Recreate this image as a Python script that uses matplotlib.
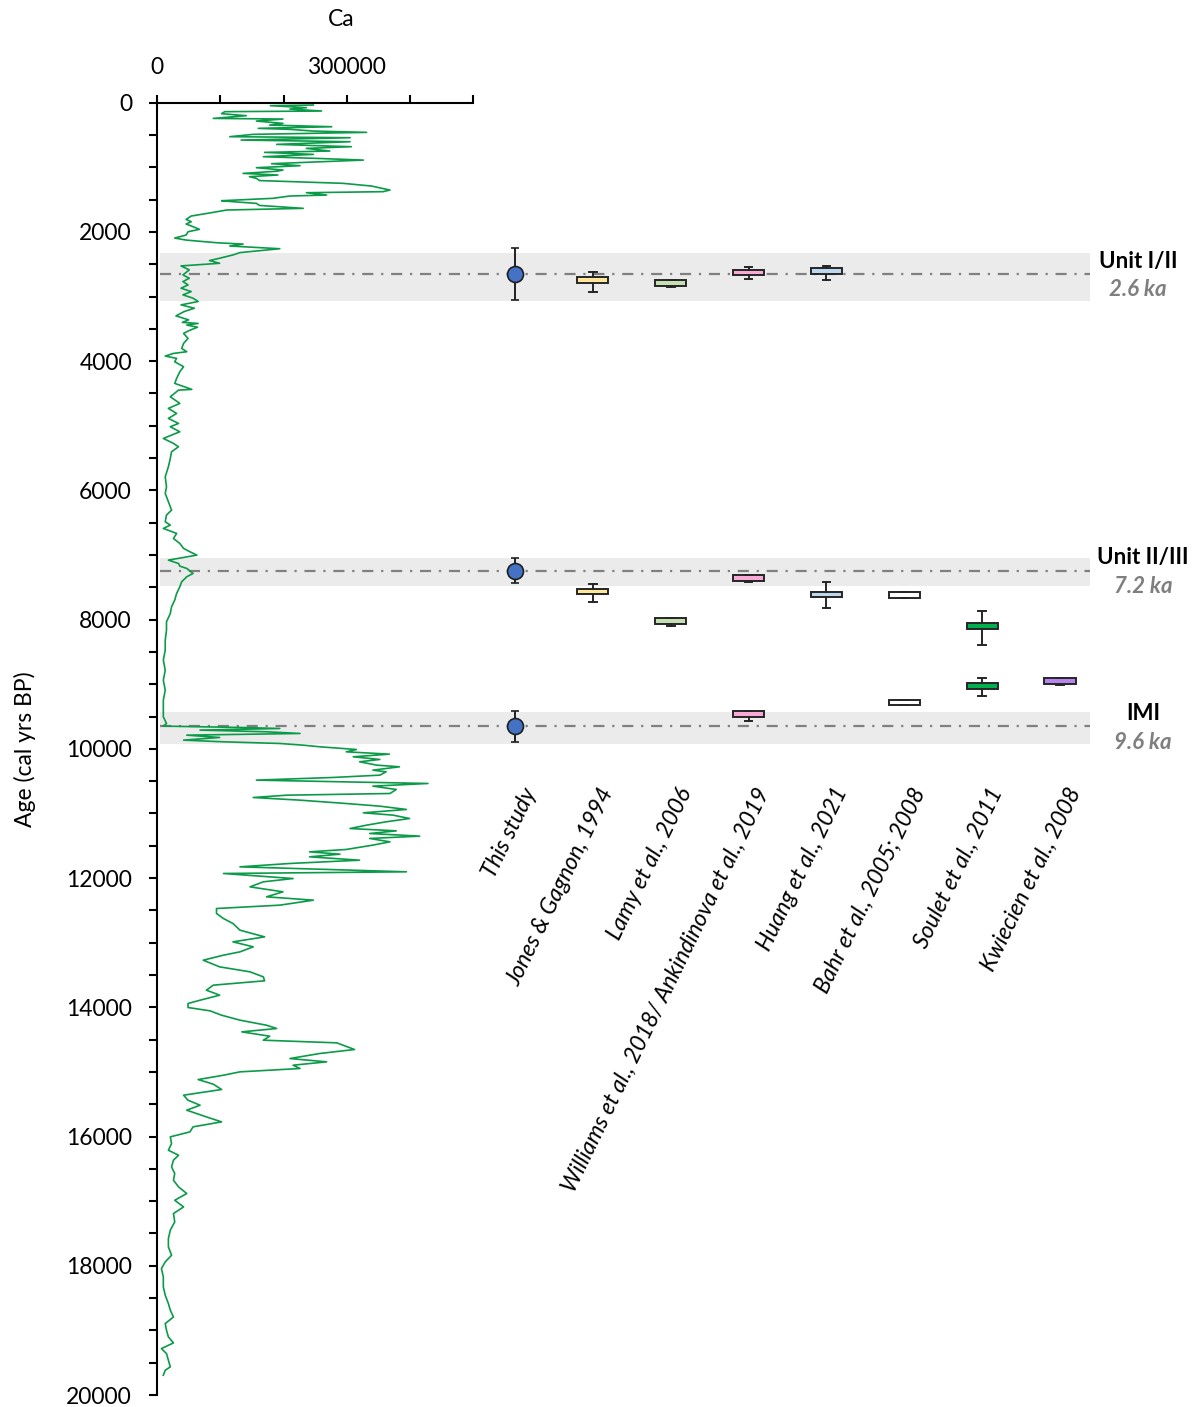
import numpy as np
import matplotlib.pyplot as plt
from matplotlib.ticker import MultipleLocator
from matplotlib.transforms import blended_transform_factory

plt.rcParams['font.family'] = ['Lato', 'DejaVu Sans']

# XRF Ca counts down-core (age in cal yrs BP, Ca in thousands of counts)
age = [36, 46, 77, 98, 129, 139, 170, 201, 243, 253, 284, 320, 346, 372, 397, 413,
       439, 459, 490, 526, 542, 578, 604, 645, 681, 707, 748, 769, 800, 836, 862, 888,
       913, 944, 975, 1006, 1042, 1060, 1094, 1119, 1145, 1171, 1205, 1248, 1290, 1352,
       1377, 1393, 1429, 1444, 1480, 1517, 1532, 1558, 1590, 1635, 1661, 1702, 1754,
       1806, 1842, 1878, 1919, 1960, 1997, 2048, 2095, 2126, 2167, 2188, 2218, 2260,
       2320, 2356, 2407, 2443, 2485, 2526, 2588, 2665, 2717, 2768, 2820, 2871, 2923,
       2974, 3026, 3077, 3129, 3181, 3232, 3299, 3361, 3400, 3416, 3441, 3474, 3530,
       3570, 3648, 3725, 3803, 3854, 3880, 3921, 3957, 4009, 4086, 4164, 4267, 4344,
       4437, 4448, 4551, 4654, 4731, 4809, 4886, 4964, 5015, 5093, 5196, 5273, 5325,
       5402, 5505, 5634, 5789, 5944, 6047, 6176, 6305, 6382, 6486, 6537, 6589, 6666,
       6744, 6821, 6898, 6950, 7002, 7079, 7131, 7172, 7208, 7285, 7337, 7414, 7492,
       7595, 7698, 7801, 7905, 8034, 8163, 8317, 8472, 8627, 8782, 8937, 9092, 9246,
       9349, 9504, 9607, 9648, 9669, 9685, 9710, 9736, 9762, 9788, 9824, 9865, 9891,
       9917, 9943, 9968, 10010, 10046, 10082, 10123, 10164, 10200, 10252, 10278, 10330,
       10355, 10407, 10443, 10484, 10536, 10577, 10629, 10691, 10717, 10753, 10794,
       10846, 10887, 10938, 10990, 11026, 11078, 11129, 11181, 11233, 11269, 11310,
       11351, 11387, 11439, 11490, 11557, 11594, 11630, 11671, 11723, 11774, 11826,
       11903, 11929, 12007, 12058, 12136, 12213, 12290, 12342, 12419, 12471, 12548,
       12626, 12703, 12806, 12910, 12987, 13064, 13142, 13193, 13271, 13374, 13451,
       13529, 13590, 13657, 13735, 13812, 13890, 13941, 14003, 14055, 14122, 14199,
       14277, 14328, 14380, 14447, 14509, 14550, 14653, 14715, 14793, 14844, 14896,
       14947, 14999, 15051, 15118, 15190, 15272, 15360, 15438, 15515, 15592, 15696,
       15773, 15850, 15928, 16005, 16108, 16212, 16289, 16366, 16470, 16573, 16676,
       16779, 16882, 16986, 17089, 17192, 17321, 17450, 17579, 17708, 17837, 17940,
       18043, 18172, 18327, 18456, 18585, 18688, 18792, 18895, 18998, 19101, 19194,
       19282, 19359, 19462, 19565, 19617, 19694]
ca_k = [247, 179, 236, 210, 260, 107, 102, 141, 89, 199, 157, 199, 178, 276, 160, 210,
        247, 331, 152, 115, 305, 133, 305, 189, 307, 236, 273, 170, 247, 168, 252, 326,
        262, 181, 226, 157, 199, 190, 136, 191, 146, 157, 162, 294, 339, 368,
        357, 236, 268, 210, 183, 102, 120, 157, 162, 231, 110, 86, 54,
        46, 54, 46, 57, 67, 49, 46, 28, 46, 94, 136, 115, 194,
        131, 120, 99, 83, 99, 38, 51, 41, 51, 41, 49, 38, 54,
        41, 57, 65, 38, 59, 43, 30, 50, 40, 65, 47, 64, 50,
        42, 49, 42, 39, 47, 26, 13, 31, 28, 42, 36, 31, 28,
        55, 34, 21, 36, 18, 31, 18, 34, 21, 36, 10, 26, 34,
        23, 21, 18, 13, 15, 13, 18, 23, 15, 13, 21, 10, 31,
        26, 36, 42, 52, 63, 18, 34, 36, 47, 57, 47, 39, 36,
        31, 28, 23, 21, 15, 15, 13, 13, 10, 13, 10, 13, 10,
        10, 10, 15, 10, 131, 194, 68, 173, 226, 47, 99, 42, 105,
        194, 231, 257, 315, 299, 367, 310, 352, 320, 347, 383, 341,
        362, 352, 278, 157, 428, 341, 378, 368, 205, 152, 226,
        299, 352, 394, 326, 373, 399, 362, 331, 305, 378, 336,
        415, 336, 368, 341, 299, 241, 289, 241, 320, 210, 131,
        394, 105, 215, 168, 147, 199, 173, 247, 194, 94, 94,
        105, 120, 131, 170, 120, 152, 131, 105, 73, 99, 147,
        168, 170, 89, 78, 99, 68, 49, 49, 84, 102, 131,
        173, 189, 134, 178, 168, 284, 312, 257, 210, 268, 215,
        226, 131, 105, 65, 89, 102, 42, 49, 68, 47, 78,
        102, 57, 52, 21, 23, 18, 34, 26, 23, 28, 26,
        34, 47, 28, 42, 26, 28, 21, 18, 18, 23, 13,
        7, 10, 10, 13, 18, 21, 26, 13, 15, 18, 26,
        7, 15, 18, 21, 13, 10]

# published ages for the unit boundaries
studies = ["This study", "Jones & Gagnon, 1994", "Lamy et al., 2006",
           "Williams et al., 2018/ Ankindinova et al., 2019", "Huang et al., 2021",
           "Bahr et al., 2005; 2008", "Soulet et al., 2011", "Kwiecien et al., 2008"]
study_colors = ['#4472C4', '#FFE699', '#C5E0B4', '#F8A9D6', '#BDD7EE', '#FFFFFF',
                '#00B050', '#B884F0']

box_study = [1, 1, 2, 2, 3, 3, 3, 4, 4, 5, 5, 6, 6, 7]
box_q1 = [2703, 7528, 2740, 7977, 2585, 7316, 9421, 2559, 7569, 7579, 9241, 8059, 8988, 8900]
box_q3 = [2796, 7610, 2833, 8070, 2672, 7399, 9505, 2656, 7652, 7662, 9329, 8147, 9076, 8994]
box_lo = [2616, 7455, 2740, 7977, 2548, 7316, 9421, 2523, 7420, 7579, 9241, 7873, 8900, 8900]
box_hi = [2926, 7724, 2848, 8101, 2734, 7420, 9567, 2745, 7827, 7662, 9329, 8390, 9180, 9014]

# this study: boundary ages with uncertainty, and shaded ranges
bound_age = [2650, 7240, 9650]
bound_err = [405, 195, 240]
band_lo = [2320, 7050, 9435]
band_hi = [3075, 7475, 9930]
bound_name = ["Unit I/II", "Unit II/III", "IMI"]
bound_ka = ["2.6 ka", "7.2 ka", "9.6 ka"]
bound_xpix = [1138, 1143, 1143]

W, H = 1200, 1407
fig = plt.figure(figsize=(W / 100, H / 100), dpi=100)
top, bot = 102.7, 1395
ax_b = fig.add_axes([160 / W, 1 - bot / H, (1090 - 160) / W, (bot - top) / H], zorder=0)
ax_ca = fig.add_axes([157 / W, 1 - bot / H, (473.5 - 157) / W, (bot - top) / H], zorder=1)
ax_ca.patch.set_visible(False)

# boundary bands, lines and published ages
ax_b.set_xlim(-(515 - 160) / 77.86, 7 + 30 / 77.86)
ax_b.set_ylim(20000, 0)
ax_b.axis('off')
for lo, hi in zip(band_lo, band_hi):
    ax_b.axhspan(lo, hi, color='#EBEBEB', lw=0, zorder=0)
for a in bound_age:
    ax_b.axhline(a, color='#808080', lw=1.6, dashes=(5, 3.5, 1, 3.5), zorder=1)

stats = [dict(med=(q1 + q3) / 2, q1=q1, q3=q3, whislo=lo, whishi=hi)
         for q1, q3, lo, hi in zip(box_q1, box_q3, box_lo, box_hi)]
bp = ax_b.bxp(stats, positions=box_study, widths=0.4, capwidths=0.1,
              patch_artist=True, showfliers=False, manage_ticks=False,
              boxprops=dict(lw=1.4, edgecolor='#262626'),
              whiskerprops=dict(lw=1.4, color='#262626'),
              capprops=dict(lw=1.4, color='#262626'),
              medianprops=dict(lw=0), zorder=3)
for patch, s in zip(bp['boxes'], box_study):
    patch.set_facecolor(study_colors[s])

ax_b.errorbar([0] * len(bound_age), bound_age, yerr=bound_err, fmt='o', ms=11.5,
              mfc=study_colors[0], mec='#1F1F1F', mew=1.2, ecolor='#1F1F1F',
              elinewidth=1.4, capsize=3, capthick=1.4, zorder=4)

for i, name in enumerate(studies):
    ax_b.text(i + 0.2, 10620, name, rotation=64, rotation_mode='anchor',
              ha='right', va='center', style='italic', fontsize=16.5)

tr = blended_transform_factory(fig.transFigure, ax_b.transData)
for a, name, ka, xp in zip(bound_age, bound_name, bound_ka, bound_xpix):
    ax_b.annotate(name, xy=(xp / W, a), xycoords=tr, xytext=(0, 9.2),
                  textcoords='offset points', ha='center', va='center',
                  fontsize=16, fontweight='bold', annotation_clip=False)
    ax_b.annotate(ka, xy=(xp / W, a), xycoords=tr, xytext=(0, -11.5),
                  textcoords='offset points', ha='center', va='center',
                  fontsize=16, fontweight='bold', style='italic', color='#7F7F7F',
                  annotation_clip=False)

# Ca curve
ax_ca.plot(np.array(ca_k) * 1000, age, color='#0B9A48', lw=1.2)
ax_ca.set_xlim(0, 500000)
ax_ca.set_ylim(20000, 0)
ax_ca.spines['right'].set_visible(False)
ax_ca.spines['bottom'].set_visible(False)
for sp in ('top', 'left'):
    ax_ca.spines[sp].set_linewidth(1.5)
ax_ca.xaxis.tick_top()
ax_ca.xaxis.set_label_position('top')
ax_ca.set_xticks([0, 300000])
ax_ca.xaxis.set_minor_locator(MultipleLocator(100000))
ax_ca.xaxis.set_major_formatter(lambda v, p: f"{v:.0f}")
ax_ca.set_yticks(range(0, 20001, 2000))
ax_ca.yaxis.set_minor_locator(MultipleLocator(500))
ax_ca.tick_params(axis='both', which='both', direction='out', length=6, width=1.5,
                  labelsize=16.5)
ax_ca.tick_params(axis='x', pad=12)
ax_ca.tick_params(axis='y', pad=12)
ax_ca.set_xlabel('Ca', fontsize=16.5)
ax_ca.xaxis.set_label_coords((341 - 157) / (473.5 - 157), 1 + (top - 20) / (bot - top))
ax_ca.set_ylabel('Age (cal yrs BP)', fontsize=16.5)
ax_ca.yaxis.set_label_coords(-(157 - 25) / (473.5 - 157), 0.5)
ax_ca.yaxis.label.set_va('center')
ax_ca.xaxis.label.set_va('center')

fig.savefig('out.png', dpi=100)
